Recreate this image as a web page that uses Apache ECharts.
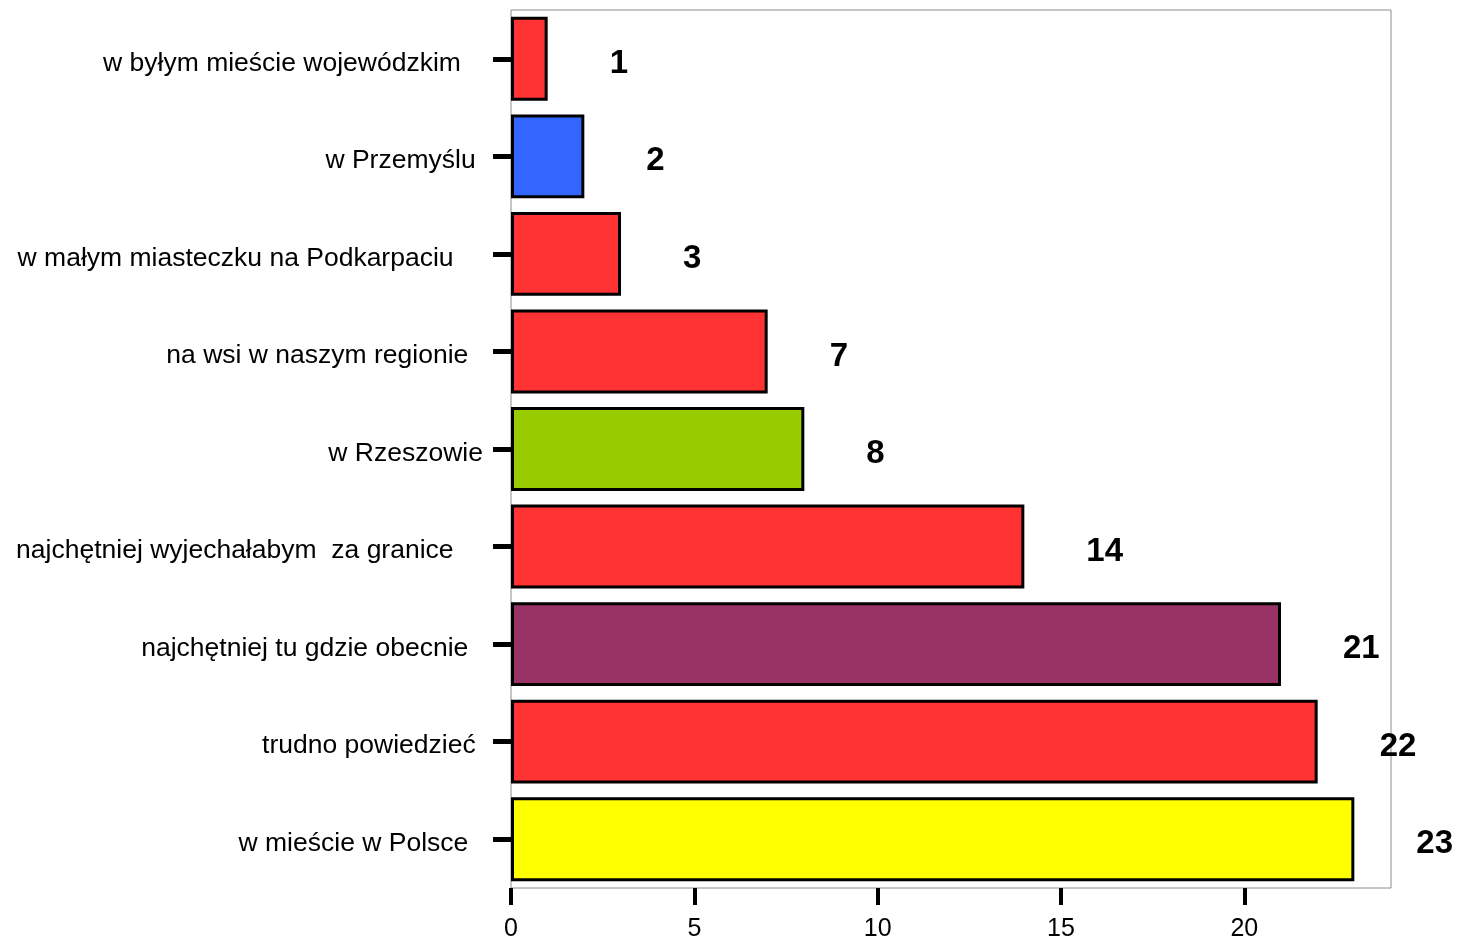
<!DOCTYPE html>
<html><head><meta charset="utf-8">
<script src="https://cdn.jsdelivr.net/npm/echarts@6/dist/echarts.min.js"></script>
<style>html,body{margin:0;padding:0;background:#fff}#c{width:1460px;height:940px}</style>
</head><body><div id="c"></div>
<script>
const categories = [
  "w byłym mieście wojewódzkim   ",
  "w Przemyślu ",
  "w małym miasteczku na Podkarpaciu    ",
  "na wsi w naszym regionie  ",
  "w Rzeszowie",
  "najchętniej wyjechałabym  za granice    ",
  "najchętniej tu gdzie obecnie  ",
  "trudno powiedzieć ",
  "w mieście w Polsce  "
];
const values = [1, 2, 3, 7, 8, 14, 21, 22, 23];
const barColors = ["#FF3333", "#3366FF", "#FF3333", "#FF3333", "#99CC00", "#FF3333", "#993366", "#FF3333", "#FFFF00"];
const xTicks = [0, 5, 10, 15, 20];

const FONT = 'Liberation Sans, Arial, sans-serif';
const chart = echarts.init(document.getElementById('c'), null, {renderer: 'canvas'});
chart.setOption({
  animation: false,
  textStyle: {fontFamily: FONT},
  grid: {left: 511, right: 69, top: 10, bottom: 52, outerBoundsMode: 'none', containLabel: false, show: true, borderColor: '#8c8c8c', borderWidth: 1, backgroundColor: 'transparent'},
  xAxis: {
    type: 'value', min: 0, max: 24, interval: 5,
    splitLine: {show: false},
    axisLine: {show: false},
    axisTick: {show: true, length: 17, customValues: xTicks, lineStyle: {color: '#000', width: 4}},
    axisLabel: {customValues: xTicks, color: '#000', fontSize: 25, margin: 29, fontFamily: FONT}
  },
  yAxis: {
    type: 'category', data: categories, inverse: true,
    axisLine: {show: false},
    axisTick: {show: true, alignWithLabel: true, length: 18, lineStyle: {color: '#000', width: 5}},
    axisLabel: {
      color: '#000', fontSize: 26.5, margin: 28, fontFamily: FONT,
      formatter: v => '{a|' + v + '}',
      rich: {a: {color: '#000', fontSize: 26.5, fontFamily: FONT, padding: [9, 0, 0, 0]}}
    }
  },
  series: [{
    type: 'bar',
    data: values.map((v, i) => ({value: v, itemStyle: {color: barColors[i]}})),
    barCategoryGap: '14%',
    itemStyle: {borderColor: '#000', borderWidth: 3},
    label: {show: true, position: 'right', distance: 62, offset: [0, 5], color: '#000', fontSize: 33, fontWeight: 'bold', fontFamily: FONT}
  }]
});
</script></body></html>
